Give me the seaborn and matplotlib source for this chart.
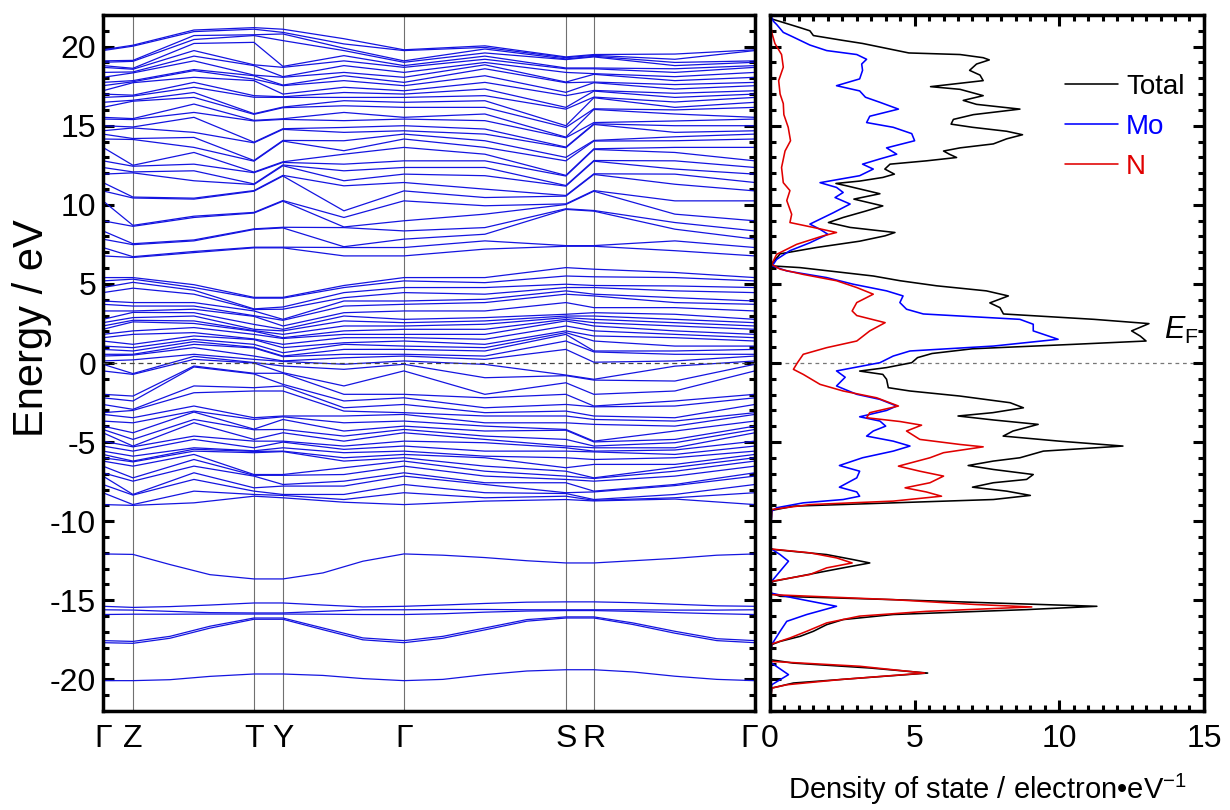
import numpy as np
import pandas as pd
import seaborn as sns
import matplotlib
matplotlib.use("Agg")
import matplotlib.pyplot as plt
from matplotlib.ticker import MultipleLocator
from matplotlib.transforms import ScaledTranslation

# Band structure: energies (eV) read at each k column of the path
# ==============================================================================
k_labels = ["Γ", "Z", "T", "Y", "Γ", "S", "R", "Γ"]
k_ticks = [0, 30, 151, 180, 301, 463, 491, 652]
# valence/conduction columns: Γ, Z, Z-T, T, Y, Y-Γ, Γ, Γ-S, S, R, R-Γ, Γ
k_path = [0, 30, 91, 151, 180, 241, 301, 382, 463, 491, 572, 652]

e_gamma = [-8.95, -8.2, -7.68, -7.15, -6.94, -6.52, -6.2, -5.99, -5.78, -5.57, -5.25, -4.94,
           -4.41, -4.2, -3.99, -3.67, -3.25, -3.14, -2.62, -2.2, -1.98, -0.5, -0.08,
           0.13, 0.44, 0.55, 0.86, 1.07, 1.39, 1.6, 1.81, 2.13, 2.34, 2.55, 2.76,
           3.29, 3.71, 3.92, 4.45, 4.77, 5.19, 5.4,
           6.77, 7.3, 7.83, 8.35, 8.99, 10.25, 10.88, 11.41, 11.94, 12.36, 12.78, 13.63,
           14.16, 14.47, 14.68, 15.0, 15.42, 15.53, 16.16, 16.48, 16.79, 17.0, 17.21,
           17.53, 17.74, 18.06, 18.37, 18.69, 18.8, 19.01, 19.1, 19.75, 19.8]
e_z = [-9.0, -8.95, -8.35, -8.31, -7.47, -7.26, -6.52, -6.25, -6.2, -5.89, -5.57, -5.3,
       -5.25, -4.83, -4.41, -3.78, -3.46, -3.0, -2.93, -2.4, -2.09, -0.72, -0.67,
       0.2, 0.5, 0.55, 0.76, 0.97, 1.18, 1.81, 2.03, 2.6, 2.7, 2.87,
       3.2, 3.29, 3.6, 3.82, 4.73, 5.1, 5.3, 5.4,
       6.67, 6.72, 7.48, 7.54, 8.64, 8.7, 10.43, 10.49, 12.02, 12.08, 12.44, 12.5,
       14.13, 14.19, 14.86, 14.92, 15.39, 15.45, 16.55, 16.61, 16.87, 16.93, 17.72,
       17.78, 17.85, 18.34, 18.4, 18.57, 18.63, 19.07, 19.13, 20.03, 20.09]
e_zt = [-8.84, -8.1, -7.36, -6.94, -6.52, -6.1, -5.78, -5.57, -5.45, -5.36, -4.83, -4.62,
        -3.78, -3.57, -3.1, -3.04, -2.72, -1.88, -1.45, -0.25, -0.19,
        0.23, 0.42, 0.55, 0.97, 1.18, 1.35, 1.5, 1.71, 1.92, 2.24, 2.5, 2.66, 2.97,
        3.18, 3.4, 3.6, 3.82, 4.35, 4.6, 4.77, 4.95,
        6.98, 7.05, 7.72, 7.78, 9.2, 9.28, 10.36, 10.42, 11.52, 12.15, 12.57, 13.31,
        13.63, 14.26, 14.58, 15.53, 15.84, 16.37, 16.79, 17.1, 17.43, 17.74, 18.06,
        18.48, 18.55, 19.1, 19.4, 19.75, 20.2, 20.45, 20.7, 20.95, 21.05]
e_t = [-8.42, -8.31, -8.1, -7.89, -7.15, -7.1, -7.05, -5.67, -5.59, -5.55, -5.36, -4.94,
       -4.83, -4.22, -4.18, -3.57, -3.46, -1.77, -1.56, -0.69, -0.65, 0.0,
       0.03, 0.23, 0.44, 0.95, 0.99, 1.18, 1.48, 1.52, 1.81, 2.01, 2.05, 2.13, 2.44,
       2.95, 2.99, 3.29, 3.38, 3.42, 4.1, 4.15,
       7.28, 7.32, 8.44, 8.48, 9.48, 9.52, 10.86, 10.9, 11.28, 11.32, 12.03, 12.07,
       12.76, 12.8, 13.92, 13.96, 15.3, 15.34, 15.72, 15.76, 16.8, 16.9, 17.85, 17.95,
       18.16, 18.2, 18.8, 18.85, 20.27, 20.7, 20.75, 21.1, 21.2]
e_y = [-8.52, -8.37, -8.31, -7.78, -7.68, -7.1, -7.05, -5.6, -5.57, -5.36, -5.0, -4.94,
       -4.41, -4.2, -3.57, -3.4, -3.35, -1.77, -1.45, -1.35, -0.65, -0.61, -0.19,
       0.1, 0.13, 0.4, 0.44, 0.65, 0.97, 1.18, 1.55, 1.6, 1.81, 2.03, 2.13, 2.34,
       2.7, 2.76, 3.4, 3.54, 4.1, 4.15,
       7.28, 7.32, 8.54, 8.58, 10.23, 10.27, 11.82, 11.86, 12.47, 12.52, 12.68, 12.72,
       14.03, 14.07, 14.77, 14.81, 15.4, 15.44, 16.14, 16.18, 16.79, 16.83, 17.0,
       17.53, 17.57, 18.06, 18.1, 18.69, 18.75, 20.38, 20.8, 20.9, 21.1]
e_yg = [-8.8, -8.63, -8.31, -7.78, -7.47, -7.05, -6.62, -6.2, -5.99, -5.67, -5.46, -5.25,
        -4.94, -4.62, -4.3, -3.78, -3.35, -3.04, -2.83, -2.4, -1.98, -1.45, -0.4, -0.08,
        0.33, 0.55, 0.86, 1.18, 1.28, 1.6, 1.81, 2.03, 2.34, 2.66, 2.97, 3.18,
        3.6, 3.92, 4.13, 4.45, 4.77, 4.9,
        6.77, 7.3, 7.35, 8.56, 8.6, 9.2, 9.62, 11.2, 11.52, 12.15, 12.57, 13.2, 13.42,
        14.05, 14.58, 14.89, 15.32, 15.84, 16.26, 16.58, 16.79, 17.1, 17.43, 17.85,
        18.16, 18.37, 18.8, 19.1, 19.43, 19.75, 19.9, 20.17, 20.5]
e_gs = [-8.73, -8.52, -8.2, -7.68, -7.57, -7.15, -6.84, -6.52, -5.99, -5.89, -5.57, -5.04,
        -4.83, -4.62, -4.3, -3.99, -3.78, -3.35, -3.14, -2.83, -2.2, -1.98, -0.93, -0.09,
        0.23, 0.44, 0.76, 0.97, 1.18, 1.5, 1.81, 2.13, 2.45, 2.66, 2.87, 3.29,
        3.82, 4.03, 4.35, 4.77, 5.08, 5.4,
        7.2, 7.72, 8.14, 8.56, 9.41, 9.94, 10.46, 10.99, 11.84, 12.36, 12.78, 13.2,
        13.63, 14.05, 14.47, 14.79, 15.32, 15.74, 16.16, 16.58, 16.9, 17.32, 17.74,
        18.16, 18.6, 18.85, 19.0, 19.2, 19.4, 19.6, 19.85, 19.95, 20.05]
e_s = [-8.63, -8.42, -8.25, -8.2, -7.57, -7.36, -7.15, -6.84, -6.62, -5.99, -5.57, -5.36,
       -5.25, -4.83, -4.25, -4.2, -3.78, -3.35, -3.04, -2.62, -1.98, -1.25, -0.8, -0.76,
       0.86, 1.39, 1.81, 1.92, 2.03, 2.34, 2.66, 2.76, 2.87, 2.97, 3.08, 3.82,
       4.35, 4.56, 4.77, 4.98, 5.5, 6.03,
       7.38, 7.42, 9.71, 9.75, 10.02, 10.06, 10.55, 10.59, 11.18, 11.22, 11.82, 11.86,
       12.78, 13.0, 13.61, 13.65, 14.24, 14.28, 14.89, 15.0, 16.05, 16.16, 16.9, 17.11,
       17.72, 17.76, 18.37, 18.6, 18.65, 19.18, 19.22, 19.3, 19.35]
e_r = [-8.72, -8.68, -8.63, -8.15, -8.1, -7.47, -7.3, -7.26, -6.41, -6.1, -5.62, -5.57,
       -5.36, -5.25, -4.99, -4.94, -3.88, -3.57, -3.35, -2.77, -2.72, -1.98, -1.08, -1.03,
       0.05, 0.7, 0.76, 1.39, 1.71, 2.03, 2.34, 2.55, 2.76, 2.97, 3.18, 3.5,
       4.24, 4.35, 4.77, 4.9, 5.45, 5.93,
       7.38, 7.42, 9.6, 9.64, 10.86, 10.9, 11.92, 11.96, 12.76, 12.8, 13.5, 13.54,
       14.03, 14.07, 15.08, 15.12, 15.2, 16.03, 16.07, 16.77, 16.81, 17.19, 17.23,
       17.72, 17.76, 18.25, 18.29, 18.6, 18.65, 19.35, 19.39, 19.45, 19.5]
e_rg = [-8.6, -8.52, -8.31, -7.75, -7.68, -7.15, -6.84, -6.6, -6.41, -5.99, -5.78, -5.5,
        -5.36, -5.04, -4.83, -4.3, -3.99, -3.67, -3.46, -2.72, -2.4, -1.77, -1.14, -0.2,
        0.13, 0.55, 0.76, 1.07, 1.6, 1.81, 2.03, 2.34, 2.55, 2.76, 3.08, 3.5,
        3.82, 4.13, 4.56, 4.87, 5.4, 5.72,
        7.1, 7.72, 8.46, 8.88, 9.41, 10.25, 11.3, 11.94, 12.26, 12.78, 13.31, 13.63,
        14.05, 14.3, 14.58, 15.0, 15.3, 15.74, 16.0, 16.16, 16.5, 16.79, 17.05, 17.32,
        17.6, 17.85, 18.1, 18.37, 18.6, 18.8, 19.0, 19.2, 19.53]

# isolated low bands, read on a finer set of k columns
k_low = [0, 30, 67, 107, 151, 180, 220, 260, 301, 340, 382, 424, 463, 491, 530, 572, 614, 652]
low_a = [-20.08, -20.08, -20.02, -19.81, -19.66, -19.66, -19.75, -19.95, -20.08,
         -20.0, -19.7, -19.47, -19.39, -19.39, -19.53, -19.8, -20.0, -20.08]
low_b = [-17.55, -17.6, -17.28, -16.64, -16.12, -16.12, -16.75, -17.38, -17.55,
         -17.28, -16.75, -16.22, -16.05, -16.05, -16.43, -16.96, -17.43, -17.55]
low_c = [-17.68, -17.72, -17.4, -16.76, -16.2, -16.2, -16.86, -17.5, -17.68,
         -17.4, -16.87, -16.32, -16.12, -16.12, -16.53, -17.08, -17.55, -17.68]
low_d = [-15.38, -15.45, -15.4, -15.3, -15.17, -15.17, -15.3, -15.42, -15.38,
         -15.3, -15.2, -15.12, -15.1, -15.1, -15.15, -15.25, -15.35, -15.38]
low_e = [-15.6, -15.62, -15.7, -15.78, -15.8, -15.8, -15.7, -15.6, -15.6,
         -15.58, -15.58, -15.6, -15.6, -15.6, -15.6, -15.62, -15.62, -15.6]
low_f = [-15.9, -15.88, -15.88, -15.87, -15.87, -15.87, -15.88, -15.9, -15.9,
         -15.85, -15.75, -15.68, -15.65, -15.65, -15.7, -15.78, -15.85, -15.9]
low_g = [-12.07, -12.1, -12.74, -13.38, -13.65, -13.65, -13.27, -12.53, -12.07,
         -12.15, -12.3, -12.5, -12.64, -12.64, -12.5, -12.35, -12.15, -12.07]

# Density of states (energy, states per eV)
# ==============================================================================
tot_E = [22.0, 21.75, 21.2, 21.0, 20.7, 20.4, 20.2, 19.9, 19.6, 19.5, 19.3, 19.16, 18.9,
         18.5, 18.2, 17.85, 17.47, 17.3, 16.9, 16.6, 16.35, 16.05, 15.7, 15.4, 15.1, 14.9,
         14.65, 14.43, 14.17, 13.85, 13.6, 13.4, 13.2, 12.99, 12.78, 12.57, 12.26, 11.94,
         11.73, 11.5, 11.35, 11.2, 10.7, 10.36, 9.93, 9.6, 9.2, 8.88, 8.57, 8.25, 8.04,
         7.7, 7.3, 6.9, 6.35, 6.14, 6.03, 5.72, 5.5, 5.2, 4.88, 4.56, 4.24, 3.8, 3.5, 3.1,
         2.76, 2.49, 2.03, 1.7, 1.39, 1.18, 0.9, 0.6, 0.34, 0.02, -0.29, -0.51, -0.72,
         -1.03, -1.56, -1.77, -2.09, -2.51, -2.83, -3.14, -3.35, -3.6, -3.88, -4.3, -4.62,
         -4.94, -5.25, -5.57, -5.99, -6.2, -6.48, -6.73, -7.05, -7.36, -7.57, -7.85, -8.1,
         -8.37, -8.63, -8.84, -9.05, -9.32, -11.7, -11.79, -12.11, -12.43, -12.64, -12.95,
         -13.27, -13.8, -14.0, -14.53, -14.75, -14.96, -15.17, -15.38, -15.59, -15.9,
         -16.22, -16.54, -16.96, -17.28, -17.6, -17.8, -18.75, -18.97, -19.28, -19.6,
         -19.92, -20.23, -20.55, -22.0]
tot_D = [0.02, 0.06, 1.04, 1.38, 1.5, 2.5, 3.2, 4.0, 4.8, 6.57, 7.37, 7.58, 7.14,
         6.9, 7.26, 7.37, 5.55, 6.57, 7.37, 6.68, 7.14, 8.64, 7.03, 6.34, 6.26, 7.0,
         8.18, 8.73, 8.18, 7.72, 6.57, 6.0, 6.2, 6.45, 5.41, 4.15, 3.97, 4.3,
         3.9, 3.1, 2.28, 2.65, 3.8, 2.9, 3.9, 3.3, 2.53, 2.02, 2.77, 4.32, 3.98,
         3.1, 1.6, 0.35, 0.1, 0.06, 1.04, 2.53, 3.57, 4.5, 5.76, 7.48, 8.24, 7.6, 7.95, 8.07,
         11.2, 13.1, 12.5, 12.8, 13.0, 10.5, 7.0, 5.6, 5.1, 4.9, 4.03, 3.1, 3.9,
         4.03, 4.09, 4.84, 6.57, 8.3, 8.76, 7.7, 6.5, 7.72, 9.27, 8.4, 8.06,
         10.0, 12.2, 9.45, 8.64, 7.72, 6.85, 7.72, 9.1, 8.87, 7.72, 7.0, 8.18,
         9.0, 7.72, 4.26, 0.81, 0.06, 0.0, 0.12, 1.96, 2.88, 3.45, 2.53,
         1.61, 0.12, 0.0, 0.0, 0.35, 4.26, 7.72, 11.3, 8.87, 4.26,
         2.53, 1.96, 1.5, 1.04, 0.35, 0.06, 0.0, 0.8, 3.45, 5.45,
         3.1, 0.81, 0.06, 0.0]
mo_E = [22.0, 21.6, 21.4, 20.9, 20.6, 20.1, 19.75, 19.5, 19.2, 18.9, 18.5, 17.96, 17.53,
        17.2, 16.8, 16.48, 16.05, 15.6, 15.2, 14.9, 14.5, 14.05, 13.6, 13.2, 12.9, 12.57,
        12.26, 11.84, 11.4, 11.1, 10.78, 10.46, 10.05, 9.5, 8.78, 8.45, 8.14, 7.6, 7.1,
        6.55, 6.14, 5.82, 5.4, 4.98, 4.56, 4.24, 3.82, 3.4, 3.1, 2.76, 2.45, 2.03, 1.5,
        1.07, 0.76, 0.44, 0.02, -0.5, -0.9, -1.45, -1.98, -2.3, -2.72, -3.0, -3.4, -3.67,
        -3.99, -4.3, -4.62, -4.94, -5.25, -5.57, -5.99, -6.48, -6.84, -7.26, -7.85, -8.15,
        -8.42, -8.63, -8.84, -9.15, -9.37, -11.7, -12.11, -12.53, -13.16, -13.8, -14.53,
        -14.85, -15.38, -15.9, -16.33, -16.96, -17.8, -18.9, -19.7, -20.34, -22.0]
mo_D = [0.02, 0.12, 0.23, 0.46, 0.81, 1.38, 1.96, 3.0, 3.34, 3.17, 3.2, 3.1, 2.3,
        3.1, 3.3, 3.8, 4.44, 3.45, 3.34, 4.26, 4.9, 5.0, 4.03, 4.38, 3.8, 3.2,
        3.57, 3.1, 1.73, 2.3, 2.53, 2.25, 2.77, 2.19, 1.38, 1.73, 2.0, 1.38, 0.69,
        0.23, 0.08, 0.58, 1.96, 2.88, 4.03, 4.6, 4.49, 4.72, 5.3, 8.64, 9.1, 9.1, 9.96,
        7.72, 4.84, 4.26, 3.8, 2.3, 2.6, 2.3, 3.0, 3.8, 4.38, 4.03, 3.1, 3.8,
        4.0, 3.57, 3.34, 4.26, 4.84, 4.26, 3.2, 2.4, 3.1, 3.0, 2.4, 3.0,
        3.1, 2.53, 1.15, 0.23, 0.06, 0.0, 0.35, 0.64, 0.35, 0.06, 0.0,
        0.81, 2.3, 1.27, 0.58, 0.35, 0.06, 0.0, 0.64, 0.06, 0.0]
n_E = [22.0, 20.9, 20.2, 19.5, 18.7, 17.85, 17.0, 16.4, 15.7, 14.9, 14.05, 13.4, 12.36,
       11.4, 10.9, 10.27, 9.4, 8.88, 8.57, 8.25, 8.04, 7.5, 6.87, 6.24, 5.93, 5.6, 5.2,
       4.77, 4.35, 3.82, 3.29, 3.0, 2.55, 2.03, 1.39, 0.97, 0.55, 0.02, -0.4, -0.72,
       -1.35, -1.77, -2.2, -2.72, -3.14, -3.46, -3.7, -3.93, -4.3, -4.83, -5.15, -5.3,
       -5.67, -5.99, -6.52, -6.84, -7.15, -7.57, -7.89, -8.15, -8.42, -8.73, -8.95, -9.26,
       -11.75, -12.0, -12.32, -12.64, -12.95, -13.37, -13.8, -14.64, -14.96, -15.27,
       -15.42, -15.7, -16.0, -16.43, -16.96, -17.38, -17.76, -18.86, -19.17, -19.6, -20.0,
       -20.34, -20.55, -22.0]
n_D = [0.0, 0.06, 0.17, 0.4, 0.46, 0.3, 0.35, 0.46, 0.48, 0.63, 0.71, 0.52, 0.4,
       0.46, 0.69, 0.58, 0.75, 0.69, 1.5, 2.3, 1.84, 0.92, 0.23, 0.06, 0.35, 1.15, 2.3,
       3.0, 3.57, 3.0, 2.84, 3.0, 3.98, 3.45, 3.0, 1.96, 1.15, 0.95, 0.81, 1.15,
       1.73, 2.53, 3.69, 4.44, 3.45, 3.34, 4.5, 5.24, 4.72, 5.18, 6.57, 7.37,
       6.0, 5.53, 4.44, 5.18, 6.0, 5.53, 4.67, 5.4, 5.93, 4.26, 1.38, 0.06,
       0.0, 1.38, 2.3, 2.84, 1.96, 1.38, 0.06, 0.0, 4.26, 7.14,
       9.05, 5.4, 3.1, 1.96, 1.27, 0.69, 0.06, 0.0, 3.1, 5.35, 2.5,
       0.58, 0.06, 0.0]

band_color = "#1414e0"
dos_colors = {"Total": "black", "Mo": "#0000ff", "N": "#e00000"}

# Estilo
# ==============================================================================
sns.set_style("white")
plt.rcParams["font.family"] = ["Liberation Sans", "DejaVu Sans"]
plt.rcParams["mathtext.fontset"] = "custom"
plt.rcParams["mathtext.rm"] = "Liberation Sans"
plt.rcParams["mathtext.it"] = "Liberation Sans:italic"
plt.rcParams["axes.unicode_minus"] = False
for key in ("text.color", "axes.labelcolor", "xtick.color", "ytick.color"):
    plt.rcParams[key] = "black"

columns = [e_gamma, e_z, e_zt, e_t, e_y, e_yg, e_gamma, e_gs, e_s, e_r, e_rg, e_gamma]
lengths = [len(c) for c in columns]
assert len(set(lengths)) == 1, lengths
E = np.array([np.sort(c) for c in columns])

rows = []
for b in range(E.shape[1]):
    for j, k in enumerate(k_path):
        rows.append((b, k, E[j, b]))
nb = E.shape[1]
for i, band in enumerate([low_a, low_b, low_c, low_d, low_e, low_f, low_g]):
    for k, e in zip(k_low, band):
        rows.append((nb + i, k, e))
bands = pd.DataFrame(rows, columns=["band", "k", "E"])

fig = plt.figure(figsize=(12.3, 8.1), dpi=100)
ax1 = fig.add_axes([0.0837, 0.1222, 0.530, 0.8593])
ax2 = fig.add_axes([0.626, 0.1222, 0.3528, 0.8593])

# Bandas
# ==============================================================================
for k in k_ticks[1:-1]:
    ax1.axvline(k, color="#707070", lw=0.8, zorder=1)
sns.lineplot(data=bands, x="k", y="E", units="band", estimator=None, sort=False,
             color=band_color, lw=0.9, ax=ax1, legend=False, zorder=2)
ax1.axhline(0, color="#444444", lw=0.9, ls=(0, (4, 3)), zorder=3)
ax1.set_xlim(0, 652)
ax1.set_ylim(-22, 22)
ax1.set_xticks(k_ticks)
ax1.set_xticklabels(k_labels)
ax1.yaxis.set_major_locator(MultipleLocator(5))
ax1.yaxis.set_minor_locator(MultipleLocator(1))
ax1.tick_params(axis="x", length=0, pad=9, labelsize=23)
ax1.tick_params(axis="y", which="both", direction="in", left=True, right=True,
                labelsize=23, pad=5, width=2.2)
ax1.tick_params(axis="y", which="major", length=8)
ax1.tick_params(axis="y", which="minor", length=4.5)
last = ax1.get_xticklabels()[-1]
last.set_transform(last.get_transform() + ScaledTranslation(-4 / 72, 0, fig.dpi_scale_trans))
ax1.set_xlabel("")
ax1.set_ylabel("Energy / eV", fontsize=30)
ax1.yaxis.set_label_coords(-0.078, 0.55)

# Densidad de estados
# ==============================================================================
for name, dd, ee in (("Total", tot_D, tot_E), ("Mo", mo_D, mo_E), ("N", n_D, n_E)):
    sns.lineplot(x=dd, y=ee, sort=False, estimator=None, orient="y",
                 color=dos_colors[name], lw=1.15, ax=ax2, label=name)
ax2.axhline(0, color="#777777", lw=0.9, ls=(0, (3, 3)), zorder=0)
ax2.set_xlim(0, 15)
ax2.set_ylim(-22, 22)
ax2.xaxis.set_major_locator(MultipleLocator(5))
ax2.xaxis.set_minor_locator(MultipleLocator(0.5))
ax2.yaxis.set_major_locator(MultipleLocator(5))
ax2.yaxis.set_minor_locator(MultipleLocator(1))
ax2.tick_params(which="both", direction="in", top=True, bottom=True, left=True, right=True,
                width=2.2, labelleft=False, labelsize=23)
ax2.tick_params(which="major", length=8)
ax2.tick_params(which="minor", length=4.5)
ax2.tick_params(axis="x", pad=9)
first = ax2.get_xticklabels()[0]
first.set_transform(first.get_transform() + ScaledTranslation(2 / 72, 0, fig.dpi_scale_trans))
ax2.set_ylabel("")
ax2.set_xlabel("Density of state / electron•eV$^{\\mathrm{-1}}$", fontsize=21, labelpad=13)
ax2.text(13.62, 1.5, "$E_{\\mathrm{F}}$", fontsize=22, ha="left", va="baseline")
ax2.legend(loc="upper left", bbox_to_anchor=(0.68, 0.915), frameon=False, fontsize=20,
           handlelength=1.9, handletextpad=0.3, labelspacing=0.5, borderpad=0,
           borderaxespad=0, labelcolor="linecolor")

for ax in (ax1, ax2):
    for s in ax.spines.values():
        s.set_linewidth(2.5)
        s.set_color("black")
        s.set_visible(True)

fig.savefig("out.png", dpi=100)
